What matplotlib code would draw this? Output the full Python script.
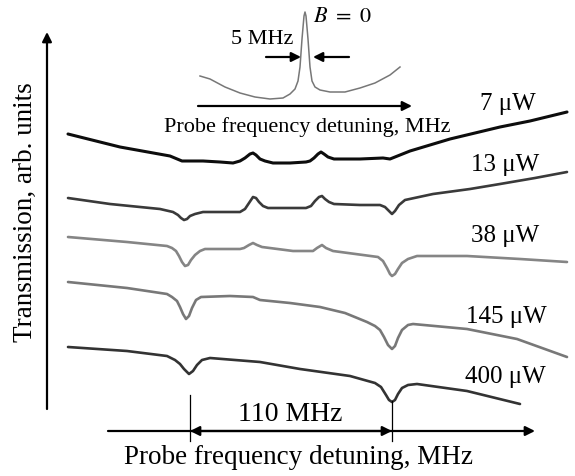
import matplotlib
matplotlib.use("Agg")
import matplotlib.pyplot as plt

plt.rcParams['font.family'] = ['Liberation Serif', 'DejaVu Serif']
plt.rcParams['mathtext.fontset'] = 'stix'

# traces (x = detuning, y = transmission, in picture units)
t7_x = [68, 80, 120, 170, 182, 203, 220, 233, 240, 245, 250, 253, 256, 260, 265, 273, 290, 306, 310, 314, 318, 321, 324, 328, 334, 360, 383, 390, 395, 410, 450, 500, 530, 567]
t7_y = [135, 138, 148, 157, 162, 162, 163, 164, 162, 159, 155, 154, 156, 160, 162, 164, 164, 163, 162, 159, 155, 153, 155, 158, 160, 160, 159, 160, 158, 152, 140, 128, 122, 113]

t13_x = [68, 110, 160, 173, 178, 181, 184, 187, 190, 195, 203, 240, 245, 249, 253, 256, 259, 263, 268, 306, 311, 315, 319, 322, 325, 329, 334, 360, 380, 385, 389, 392, 395, 399, 405, 433, 470, 500, 535, 567]
t13_y = [199, 205, 210, 213, 216, 219, 221, 220, 217, 215, 213, 213, 210, 204, 198, 199, 203, 207, 209, 209, 207, 202, 198, 197, 200, 203, 205, 206, 206, 208, 212, 215, 212, 206, 201, 195, 190, 185, 179, 173]

t38_x = [68, 127, 167, 172, 176, 179, 182, 185, 188, 191, 195, 200, 205, 240, 244, 249, 253, 257, 262, 293, 313, 317, 322, 326, 333, 378, 383, 387, 390, 392, 395, 398, 402, 408, 417, 467, 520, 567]
t38_y = [238, 243, 247, 249, 252, 257, 263, 267, 266, 261, 256, 252, 250, 250, 249, 246, 244, 246, 248, 252, 252, 249, 246, 249, 252, 258, 262, 269, 275, 277, 275, 270, 264, 260, 257, 257, 260, 263]

t145_x = [68, 127, 167, 172, 177, 180, 183, 186, 189, 192, 196, 201, 230, 253, 260, 290, 320, 345, 367, 375, 380, 384, 388, 392, 395, 398, 402, 408, 413, 467, 517, 567]
t145_y = [283, 289, 295, 298, 302, 308, 315, 320, 317, 309, 301, 298, 297, 298, 301, 304, 308, 314, 323, 327, 331, 338, 346, 350, 347, 339, 331, 326, 325, 330, 340, 358]

t400_x = [68, 127, 167, 175, 180, 184, 189, 193, 197, 202, 210, 260, 300, 350, 375, 381, 386, 389, 392, 395, 398, 402, 408, 417, 467, 520]
t400_y = [348, 352, 357, 361, 365, 370, 375, 372, 366, 361, 359, 363, 370, 377, 384, 388, 396, 401, 403, 401, 395, 389, 386, 385, 392, 405]

# inset: B = 0 resonance
ins_x = [200, 210, 225, 240, 255, 270, 283, 290, 295, 298, 300, 302, 304, 305, 306, 308, 310, 312, 315, 320, 330, 345, 360, 375, 390, 400]
ins_y = [77, 80, 88, 94, 98, 100, 99, 95, 90, 82, 68, 40, 17, 13, 17, 40, 68, 82, 88, 91, 93, 93, 89, 84, 76, 68]

powers = ["7 μW", "13 μW", "38 μW", "145 μW", "400 μW"]
colors = ["#0d0d0d", "#3a3a3a", "#858585", "#787878", "#333333"]
widths = [2.2, 1.9, 1.9, 1.9, 1.9]
traces = [(t7_x, t7_y), (t13_x, t13_y), (t38_x, t38_y), (t145_x, t145_y), (t400_x, t400_y)]
label_pos = [(508, 104), (505, 165), (505, 236), (506, 317), (505, 377)]

fig = plt.figure(figsize=(5.75, 4.77), dpi=100)
ax = fig.add_axes([0, 0, 1, 1])
ax.set_xlim(0, 575)
ax.set_ylim(477, 0)
ax.axis('off')

for (x, y), c, w in zip(traces, colors, widths):
    ax.plot(x, y, color=c, lw=w, solid_joinstyle='round', solid_capstyle='round')
for p, (lx, ly) in zip(powers, label_pos):
    ax.text(lx, ly, p, fontsize=18, ha='center', va='center')

ax.plot(ins_x, ins_y, color='#777777', lw=1.1, solid_joinstyle='round')

arrow = dict(arrowstyle='-|>', color='black', lw=1.6, mutation_scale=14, shrinkA=0, shrinkB=0)
# axes
ax.annotate('', xy=(47, 33), xytext=(47, 410), arrowprops=arrow)
ax.annotate('', xy=(535, 432), xytext=(108, 432), arrowprops=arrow)
ax.annotate('', xy=(412, 107), xytext=(198, 107), arrowprops=arrow)

# 110 MHz splitting
ax.plot([190, 190], [396, 442], color='black', lw=0.9)
ax.plot([392, 392], [402, 442], color='black', lw=0.9)
ax.annotate('', xy=(190, 432), xytext=(392, 432),
            arrowprops=dict(arrowstyle='<|-|>', color='black', lw=1.6, mutation_scale=14, shrinkA=0, shrinkB=0))
ax.text(290, 415, "110 MHz", fontsize=20, ha='center', va='center')

# 5 MHz width
ax.annotate('', xy=(301, 58), xytext=(266, 58), arrowprops=arrow)
ax.annotate('', xy=(313, 58), xytext=(349, 58), arrowprops=arrow)
ax.text(262, 40, "5 MHz", fontsize=16, ha='center', va='center')
ax.text(342, 17, r"$B\ =\ 0$", fontsize=16, ha='center', va='center')

ax.text(307, 127, "Probe frequency detuning, MHz", fontsize=16, ha='center', va='center')
ax.text(298, 458, "Probe frequency detuning, MHz", fontsize=19.5, ha='center', va='center')
ax.text(25, 212, "Transmission, arb. units", fontsize=19.5, ha='center', va='center', rotation=90)

fig.savefig('out.png', dpi=100)
